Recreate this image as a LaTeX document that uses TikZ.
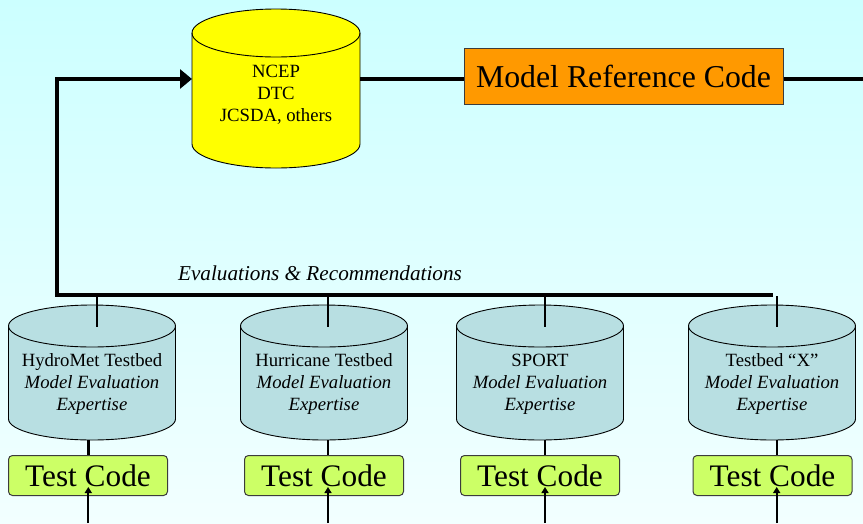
\documentclass[tikz,border=0pt]{standalone}
\usepackage{fontspec}
\setmainfont{Liberation Serif}
\usetikzlibrary{arrows.meta}
\definecolor{bgtop}{RGB}{204,255,255}
\definecolor{bgbot}{RGB}{242,255,255}
\definecolor{ncepyellow}{RGB}{255,255,0}
\definecolor{reforange}{RGB}{255,153,0}
\definecolor{tbteal}{RGB}{184,223,226}
\definecolor{codegreen}{RGB}{204,255,102}
\definecolor{edgegray}{RGB}{60,60,60}
% name, cx, rx, yt, yb, ry, colour
\newcommand\mycyl[7]{%
  \filldraw[fill=#7,draw=black,line width=0.9pt]
    (#2-#3,#4) -- (#2-#3,#5)
    arc[start angle=180,end angle=0,x radius=#3,y radius=#6]
    -- (#2+#3,#4)
    arc[start angle=0,end angle=-180,x radius=#3,y radius=#6] -- cycle;
  \draw[line width=0.9pt] (#2-#3,#4)
    arc[start angle=180,end angle=0,x radius=#3,y radius=#6];
}
\tikzset{
  mainline/.style={line width=3.6pt,draw=black},
  stubline/.style={line width=2.4pt,draw=black},
  inarrow/.style={line width=2.2pt,draw=black,-{Triangle[length=6pt,width=7pt]}},
  cyltext/.style={align=center,font=\fontsize{18.7}{22}\selectfont,inner sep=0pt},
  refbox/.style={draw=edgegray,line width=1pt,fill=reforange,minimum width=319pt,minimum height=56pt,inner sep=0pt,font=\fontsize{31.8}{36}\selectfont},
  codebox/.style={draw=edgegray,line width=1pt,fill=codegreen,rounded corners=4pt,minimum width=159pt,minimum height=40pt,inner sep=0pt,font=\fontsize{31.3}{36}\selectfont},
}
\begin{document}
\begin{tikzpicture}[x=1pt,y=-1pt]
\useasboundingbox (0,0) rectangle (863,523);
\shade[top color=bgtop,bottom color=bgbot] (0,0) rectangle (863,523);

% cylinders
\mycyl{ncepcyl}{276}{84}{33}{144}{24}{ncepyellow}
\mycyl{hydrocyl}{92}{83.5}{326}{419}{21}{tbteal}
\mycyl{hurcyl}{324}{83.5}{326}{419}{21}{tbteal}
\mycyl{sportcyl}{540}{83.5}{326}{419}{21}{tbteal}
\mycyl{xcyl}{772}{83.5}{326}{419}{21}{tbteal}

% cylinder texts
\node[cyltext] (ncep) at (276,95) {NCEP\\DTC\\JCSDA, others};
\node[cyltext] (hydro) at (92,384) {HydroMet Testbed\\\textit{Model Evaluation}\\\textit{Expertise}};
\node[cyltext] (hur) at (324,384) {Hurricane Testbed\\\textit{Model Evaluation}\\\textit{Expertise}};
\node[cyltext] (sport) at (540,384) {SPORT\\\textit{Model Evaluation}\\\textit{Expertise}};
\node[cyltext] (tbx) at (772,384) {Testbed “X”\\\textit{Model Evaluation}\\\textit{Expertise}};

% reference code box
\node[refbox] (ref) at (623.5,76) {Model Reference Code};

% evaluation label
\node[anchor=base,font=\fontsize{21.2}{25}\selectfont\itshape,inner sep=0pt] (evallabel) at (320,280) {Evaluations \& Recommendations};

% test code boxes
\node[codebox] (hydrocode) at (88,475.5) {Test Code};
\node[codebox] (hurcode) at (324,475.5) {Test Code};
\node[codebox] (sportcode) at (540,475.5) {Test Code};
\node[codebox] (xcode) at (772.5,475.5) {Test Code};

% coordinates
\coordinate (ncepE) at (360,79);
\coordinate (ncepW) at (192,79);
\coordinate (rightend) at (863,79);
\coordinate (cornerTop) at (57,79);
\coordinate (cornerLow) at (57,295);
\coordinate (evalEnd) at (773,295);

\coordinate (hydroS) at (96.7,295);  \coordinate (hydroT) at (96.7,327);
\coordinate (hurS) at (328,295);     \coordinate (hurT) at (328,327);
\coordinate (sportS) at (545,295);   \coordinate (sportT) at (545,327);
\coordinate (xS) at (776.7,296);     \coordinate (xT) at (776.7,327);

\coordinate (hydroB) at (88.3,440);  \coordinate (hydroIn) at (88.3,523);  \coordinate (hydroTip) at (88.3,487);
\coordinate (hurB) at (328,440);     \coordinate (hurIn) at (328,523);     \coordinate (hurTip) at (328,487);
\coordinate (sportB) at (545,440);   \coordinate (sportIn) at (545,523);   \coordinate (sportTip) at (545,487);
\coordinate (xB) at (776.7,440);     \coordinate (xIn) at (776.7,523);     \coordinate (xTip) at (776.7,487);

% main lines
\draw[mainline] (ncepE) -- (ref.west |- ncepE);
\draw[mainline] (ref.east |- ncepE) -- (rightend);
\draw[mainline,line join=miter,-{Triangle[length=12pt,width=19pt]}] (evalEnd) -- (cornerLow) -- (cornerTop) -- (ncepW);

% stubs into cylinders
\draw[stubline] (hydroS) -- (hydroT);
\draw[stubline] (hurS) -- (hurT);
\draw[stubline] (sportS) -- (sportT);
\draw[stubline] (xS) -- (xT);

% cylinders to test code
\draw[stubline] (hydroB) -- (hydroB |- hydrocode.north);
\draw[stubline] (hurB) -- (hurB |- hurcode.north);
\draw[stubline] (sportB) -- (sportB |- sportcode.north);
\draw[stubline] (xB) -- (xB |- xcode.north);

% incoming arrows
\draw[inarrow] (hydroIn) -- (hydroTip);
\draw[inarrow] (hurIn) -- (hurTip);
\draw[inarrow] (sportIn) -- (sportTip);
\draw[inarrow] (xIn) -- (xTip);
\end{tikzpicture}
\end{document}
